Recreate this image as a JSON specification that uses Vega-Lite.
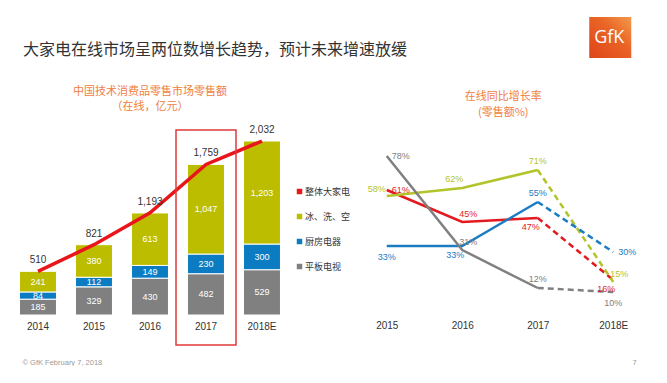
{
  "$schema": "https://vega.github.io/schema/vega-lite/v6.json",
  "padding": {"left": 10, "top": 17, "right": 0, "bottom": 0},
  "background": "white",
  "config": {"view": {"stroke": null}, "font": "Liberation Sans, Noto Sans CJK SC, sans-serif"},
  "datasets": {
    "bars": [
      {"year": "2014", "cat": "平板电视", "value": 185},
      {"year": "2014", "cat": "厨房电器", "value": 84},
      {"year": "2014", "cat": "冰、洗、空", "value": 241},
      {"year": "2015", "cat": "平板电视", "value": 329},
      {"year": "2015", "cat": "厨房电器", "value": 112},
      {"year": "2015", "cat": "冰、洗、空", "value": 380},
      {"year": "2016", "cat": "平板电视", "value": 430},
      {"year": "2016", "cat": "厨房电器", "value": 149},
      {"year": "2016", "cat": "冰、洗、空", "value": 613},
      {"year": "2017", "cat": "平板电视", "value": 482},
      {"year": "2017", "cat": "厨房电器", "value": 230},
      {"year": "2017", "cat": "冰、洗、空", "value": 1047},
      {"year": "2018E", "cat": "平板电视", "value": 529},
      {"year": "2018E", "cat": "厨房电器", "value": 300},
      {"year": "2018E", "cat": "冰、洗、空", "value": 1203}
    ],
    "totals": [
      {"year": "2014", "total": 510},
      {"year": "2015", "total": 821},
      {"year": "2016", "total": 1193},
      {"year": "2017", "total": 1759},
      {"year": "2018E", "total": 2032}
    ],
    "growth": [
      {"cat": "整体大家电", "year": "2015", "value": 0.61},
      {"cat": "整体大家电", "year": "2016", "value": 0.45},
      {"cat": "整体大家电", "year": "2017", "value": 0.47},
      {"cat": "整体大家电", "year": "2018E", "value": 0.16},
      {"cat": "冰、洗、空", "year": "2015", "value": 0.58},
      {"cat": "冰、洗、空", "year": "2016", "value": 0.62},
      {"cat": "冰、洗、空", "year": "2017", "value": 0.71},
      {"cat": "冰、洗、空", "year": "2018E", "value": 0.15},
      {"cat": "厨房电器", "year": "2015", "value": 0.33},
      {"cat": "厨房电器", "year": "2016", "value": 0.33},
      {"cat": "厨房电器", "year": "2017", "value": 0.55},
      {"cat": "厨房电器", "year": "2018E", "value": 0.30},
      {"cat": "平板电视", "year": "2015", "value": 0.78},
      {"cat": "平板电视", "year": "2016", "value": 0.31},
      {"cat": "平板电视", "year": "2017", "value": 0.12},
      {"cat": "平板电视", "year": "2018E", "value": 0.10}
    ]
  },
  "bounds": "flush",
  "spacing": 59,
  "resolve": {"scale": {"x": "independent", "y": "independent", "color": "independent"}, "legend": {"color": "independent"}},
  "hconcat": [
    {
      "width": 280,
      "height": 190,
      "layer": [
        {
          "data": {"name": "bars"},
          "mark": {"type": "bar", "stroke": "white", "strokeWidth": 1},
          "encoding": {
            "x": {"field": "year", "type": "ordinal", "scale": {"domain": ["2014", "2015", "2016", "2017", "2018E"], "paddingInner": 0.34, "paddingOuter": 0.17},
              "axis": {"title": "© GfK February 7, 2018", "titleX": 12, "titleY": 47, "titleAlign": "left", "titleAnchor": "start", "titleBaseline": "middle", "titleFontSize": 7.5, "titleColor": "#9a9a9a", "titleFontWeight": "normal", "titleFont": "Liberation Sans", "labelAngle": 0, "labelFontSize": 10, "labelColor": "#333333", "labelPadding": 6, "ticks": false, "tickSize": 0, "domain": false, "grid": false}},
            "y": {"field": "value", "type": "quantitative", "stack": "zero", "scale": {"domain": [0, 2219], "nice": false, "zero": false}, "axis": null},
            "color": {"field": "cat", "type": "nominal",
              "scale": {"domain": ["整体大家电", "冰、洗、空", "厨房电器", "平板电视"], "range": ["#e8161b", "#bdbd00", "#0b7cc2", "#808080"]},
              "legend": {"orient": "none", "legendX": 285, "legendY": 62, "title": null, "symbolType": "square", "symbolSize": 30, "symbolStrokeWidth": 0, "labelFontSize": 9, "labelFont": "Noto Sans CJK SC", "labelColor": "#333333", "rowPadding": 15, "labelOffset": 1, "padding": 0}},
            "order": {"field": "cat", "sort": "descending"}
          }
        },
        {
          "data": {"name": "bars"},
          "mark": {"type": "text", "color": "white", "fontSize": 9, "baseline": "middle"},
          "encoding": {
            "x": {"field": "year", "type": "ordinal"},
            "y": {"field": "value", "type": "quantitative", "stack": "zero", "bandPosition": 0.5},
            "text": {"field": "value", "type": "quantitative", "format": ","},
            "order": {"field": "cat", "sort": "descending"}
          }
        },
        {
          "data": {"name": "totals"},
          "mark": {"type": "line", "color": "#e8161b", "strokeWidth": 3.5},
          "encoding": {
            "x": {"field": "year", "type": "ordinal"},
            "y": {"field": "total", "type": "quantitative"}
          }
        },
        {
          "data": {"name": "totals"},
          "mark": {"type": "text", "color": "#333333", "fontSize": 10, "baseline": "middle", "dy": -11},
          "encoding": {
            "x": {"field": "year", "type": "ordinal"},
            "y": {"field": "total", "type": "quantitative"},
            "text": {"field": "total", "type": "quantitative", "format": ","}
          }
        },
        {
          "data": {"values": [{}]},
          "mark": {"type": "bar", "fill": "transparent", "stroke": "#e0393a", "strokeWidth": 1.5, "width": {"band": 1.623}},
          "encoding": {
            "x": {"datum": "2017", "type": "ordinal"},
            "y": {"datum": 2161, "type": "quantitative"},
            "y2": {"datum": -350}
          }
        },
        {
          "data": {"values": [{}]},
          "mark": {"type": "text", "text": "大家电在线市场呈两位数增长趋势，预计未来增速放缓", "align": "left", "baseline": "middle", "fontSize": 16, "font": "Noto Sans CJK SC", "color": "#333333", "dx": 3.5},
          "encoding": {
            "x": {"datum": "2014", "type": "ordinal", "bandPosition": 0},
            "y": {"datum": 3095, "type": "quantitative"}
          }
        },
        {
          "data": {"values": [{}]},
          "mark": {"type": "text", "text": "中国技术消费品零售市场零售额", "baseline": "middle", "fontSize": 11, "font": "Noto Sans CJK SC", "color": "#ef8040"},
          "encoding": {
            "x": {"datum": "2016", "type": "ordinal"},
            "y": {"datum": 2604, "type": "quantitative"}
          }
        },
        {
          "data": {"values": [{}]},
          "mark": {"type": "text", "text": "（在线，亿元）", "baseline": "middle", "fontSize": 11, "font": "Noto Sans CJK SC", "color": "#ef8040"},
          "encoding": {
            "x": {"datum": "2016", "type": "ordinal"},
            "y": {"datum": 2429, "type": "quantitative"}
          }
        }
      ]
    },
    {
      "width": 302,
      "height": 190,
      "layer": [
        {
          "data": {"name": "growth"},
          "transform": [{"filter": "datum.year != '2018E'"}],
          "mark": {"type": "line", "strokeWidth": 2.5},
          "encoding": {
            "x": {"field": "year", "type": "ordinal", "scale": {"type": "point", "padding": 0.5, "domain": ["2015", "2016", "2017", "2018E"]},
              "axis": {"title": "7", "titleX": 283, "titleY": 47, "titleAlign": "left", "titleAnchor": "start", "titleBaseline": "middle", "titleFontSize": 7.5, "titleColor": "#9a9a9a", "titleFontWeight": "normal", "labelAngle": 0, "labelFontSize": 10, "labelColor": "#333333", "labelPadding": 5, "ticks": false, "tickSize": 0, "domain": false, "grid": false}},
            "y": {"field": "value", "type": "quantitative", "scale": {"domain": [-0.015, 0.935], "nice": false, "zero": false}, "axis": null},
            "color": {"field": "cat", "type": "nominal", "scale": {"domain": ["整体大家电", "冰、洗、空", "厨房电器", "平板电视"], "range": ["#e3191f", "#b3c42a", "#1b7cc2", "#808080"]}, "legend": null}
          }
        },
        {
          "data": {"name": "growth"},
          "transform": [{"filter": "datum.year == '2017' || datum.year == '2018E'"}],
          "mark": {"type": "line", "strokeWidth": 2.5, "strokeDash": [6, 4]},
          "encoding": {
            "x": {"field": "year", "type": "ordinal"},
            "y": {"field": "value", "type": "quantitative"},
            "color": {"field": "cat", "type": "nominal", "legend": null}
          }
        },
        {
          "data": {"name": "growth"},
          "transform": [{"filter": "datum.year == '2017' && datum.cat != '整体大家电'"}],
          "mark": {"type": "text", "fontSize": 9, "baseline": "middle", "dy": -9},
          "encoding": {"x": {"field": "year", "type": "ordinal"}, "y": {"field": "value", "type": "quantitative"}, "color": {"field": "cat", "type": "nominal", "legend": null}, "text": {"field": "value", "type": "quantitative", "format": ".0%"}}
        },
        {
          "data": {"name": "growth"},
          "transform": [{"filter": "datum.year == '2016' && datum.cat == '冰、洗、空'"}],
          "mark": {"type": "text", "fontSize": 9, "baseline": "middle", "dx": -8, "dy": -9},
          "encoding": {"x": {"field": "year", "type": "ordinal"}, "y": {"field": "value", "type": "quantitative"}, "color": {"field": "cat", "type": "nominal", "legend": null}, "text": {"field": "value", "type": "quantitative", "format": ".0%"}}
        },
        {
          "data": {"name": "growth"},
          "transform": [{"filter": "(datum.year == '2016' && (datum.cat == '整体大家电' || datum.cat == '平板电视')) || (datum.year == '2018E' && datum.cat == '冰、洗、空')"}],
          "mark": {"type": "text", "fontSize": 9, "baseline": "middle", "dx": 6, "dy": -8},
          "encoding": {"x": {"field": "year", "type": "ordinal"}, "y": {"field": "value", "type": "quantitative"}, "color": {"field": "cat", "type": "nominal", "legend": null}, "text": {"field": "value", "type": "quantitative", "format": ".0%"}}
        },
        {
          "data": {"name": "growth"},
          "transform": [{"filter": "(datum.year == '2015' && datum.cat == '厨房电器') || (datum.year == '2018E' && datum.cat == '平板电视')"}],
          "mark": {"type": "text", "fontSize": 9, "baseline": "middle", "dy": 11},
          "encoding": {"x": {"field": "year", "type": "ordinal"}, "y": {"field": "value", "type": "quantitative"}, "color": {"field": "cat", "type": "nominal", "legend": null}, "text": {"field": "value", "type": "quantitative", "format": ".0%"}}
        },
        {
          "data": {"name": "growth"},
          "transform": [{"filter": "(datum.year == '2016' && datum.cat == '厨房电器') || (datum.cat == '整体大家电' && (datum.year == '2017' || datum.year == '2018E'))"}],
          "mark": {"type": "text", "fontSize": 9, "baseline": "middle", "dx": -7, "dy": 9},
          "encoding": {"x": {"field": "year", "type": "ordinal"}, "y": {"field": "value", "type": "quantitative"}, "color": {"field": "cat", "type": "nominal", "legend": null}, "text": {"field": "value", "type": "quantitative", "format": ".0%"}}
        },
        {
          "data": {"name": "growth"},
          "transform": [{"filter": "(datum.year == '2015' && (datum.cat == '平板电视' || datum.cat == '整体大家电')) || (datum.year == '2018E' && datum.cat == '厨房电器')"}],
          "mark": {"type": "text", "fontSize": 9, "baseline": "middle", "align": "left", "dx": 5},
          "encoding": {"x": {"field": "year", "type": "ordinal"}, "y": {"field": "value", "type": "quantitative"}, "color": {"field": "cat", "type": "nominal", "legend": null}, "text": {"field": "value", "type": "quantitative", "format": ".0%"}}
        },
        {
          "data": {"name": "growth"},
          "transform": [{"filter": "datum.year == '2015' && datum.cat == '冰、洗、空'"}],
          "mark": {"type": "text", "fontSize": 9, "baseline": "middle", "align": "right", "dx": -1, "dy": -7},
          "encoding": {"x": {"field": "year", "type": "ordinal"}, "y": {"field": "value", "type": "quantitative"}, "color": {"field": "cat", "type": "nominal", "legend": null}, "text": {"field": "value", "type": "quantitative", "format": ".0%"}}
        },
        {
          "data": {"values": [{}]},
          "mark": {"type": "text", "text": "在线同比增长率", "baseline": "middle", "fontSize": 11, "font": "Noto Sans CJK SC", "color": "#ef8040", "dx": 41},
          "encoding": {
            "x": {"datum": "2016", "type": "ordinal"},
            "y": {"datum": 1.075, "type": "quantitative"}
          }
        },
        {
          "data": {"values": [{}]},
          "mark": {"type": "text", "text": "(零售额%)", "baseline": "middle", "fontSize": 11, "font": "Noto Sans CJK SC", "color": "#ef8040", "dx": 41},
          "encoding": {
            "x": {"datum": "2016", "type": "ordinal"},
            "y": {"datum": 0.995, "type": "quantitative"}
          }
        },
        {
          "data": {"values": [{}]},
          "mark": {"type": "bar", "width": 42, "xOffset": -3, "color": {"gradient": "linear", "x1": 0, "y1": 1, "x2": 1, "y2": 0, "stops": [{"offset": 0, "color": "#df4419"}, {"offset": 0.6, "color": "#ea6526"}, {"offset": 1, "color": "#f49a4c"}]}},
          "encoding": {
            "x": {"datum": "2018E", "type": "ordinal"},
            "y": {"datum": 1.475, "type": "quantitative"},
            "y2": {"datum": 1.27}
          }
        },
        {
          "data": {"values": [{}]},
          "mark": {"type": "text", "text": "GfK", "color": "white", "fontSize": 18, "font": "Open Sans", "baseline": "middle", "dx": -4},
          "encoding": {
            "x": {"datum": "2018E", "type": "ordinal"},
            "y": {"datum": 1.37, "type": "quantitative"}
          }
        }
      ]
    }
  ]
}
